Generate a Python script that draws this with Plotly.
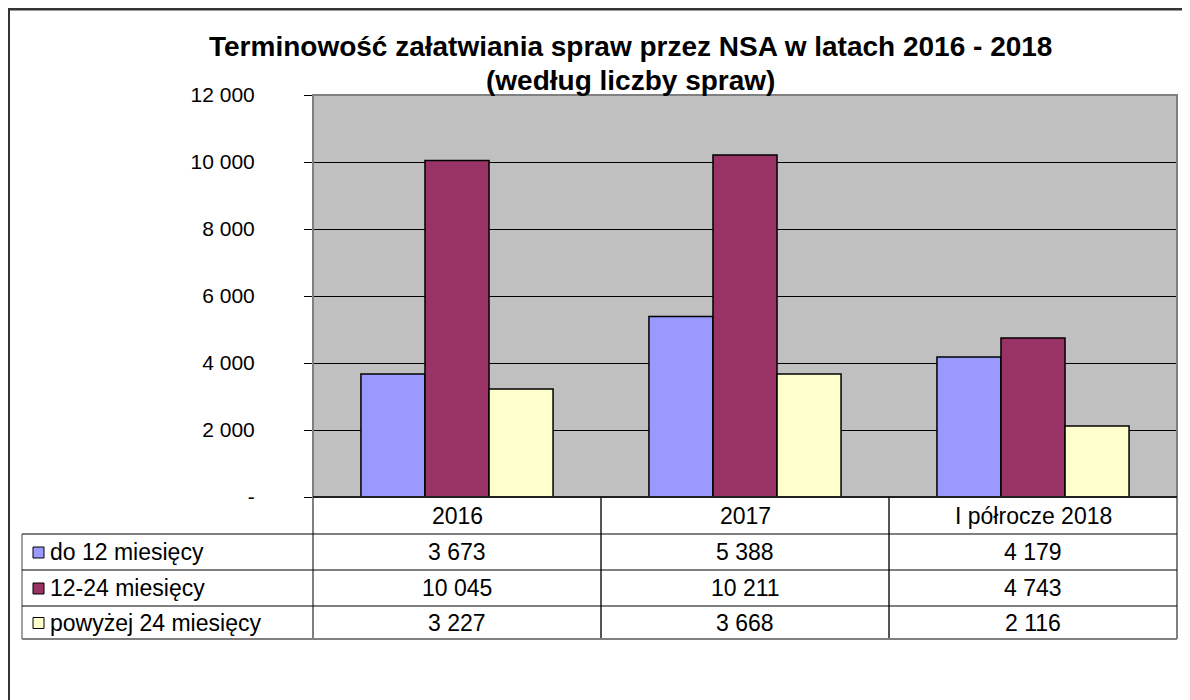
import plotly.graph_objects as go

# dane z wykresu
kategorie = ["2016", "2017", "I półrocze 2018"]
serie = ["do 12 miesięcy", "12-24 miesięcy", "powyżej 24 miesięcy"]
do_12 = [3673, 5388, 4179]
od_12_do_24 = [10045, 10211, 4743]
powyzej_24 = [3227, 3668, 2116]
wartosci = [do_12, od_12_do_24, powyzej_24]
kolory = ["#9999FF", "#993366", "#FFFFCC"]
y_ticki = [0, 2000, 4000, 6000, 8000, 10000, 12000]
y_etykiety = ["-", "2 000", "4 000", "6 000", "8 000", "10 000", "12 000"]
tytul = ["Terminowość załatwiania spraw przez NSA w latach 2016 - 2018",
         "(według liczby spraw)"]

FONT = "Liberation Sans, Arial, sans-serif"

# obszar wykresu w pikselach (współrzędne strony; body ma margines 8 px)
OFF = 8
L, R, T, B = 313, 1177, 95, 497
W, H = 1190 - OFF, 700 - OFF


def px(x):
    return (x - L) / (R - L)


def py(y):
    return (B - y) / (B - T)


def fmt(v):
    return f"{v:,}".replace(",", " ")


fig = go.Figure()
for nazwa, vals, kol in zip(serie, wartosci, kolory):
    fig.add_trace(go.Bar(
        x=kategorie, y=vals, name=nazwa,
        marker=dict(color=kol, line=dict(color="#000000", width=1.5)),
        hoverinfo="x+y+name"
    ))

shapes = []
# ramka zewnętrzna
shapes.append(dict(type="line", xref="paper", yref="paper",
                   x0=px(8), x1=px(1200), y0=py(9), y1=py(9),
                   line=dict(color="#333333", width=3)))
shapes.append(dict(type="line", xref="paper", yref="paper",
                   x0=px(9), x1=px(9), y0=py(8), y1=py(710),
                   line=dict(color="#333333", width=2)))
# ramka obszaru wykresu
shapes.append(dict(type="rect", xref="paper", yref="paper",
                   x0=0, x1=1, y0=0, y1=1, layer="above",
                   line=dict(color="#808080", width=2)))

# tabela danych
rows = [534, 570, 606, 639]
cols = [L, 601, 889, R]
for i, c in enumerate(cols):
    shapes.append(dict(type="line", xref="paper", yref="paper",
                       x0=px(c), x1=px(c), y0=py(B), y1=py(rows[-1]),
                       line=dict(color="#808080" if i in (0, 3) else "#555555", width=2)))
shapes.append(dict(type="line", xref="paper", yref="paper",
                   x0=px(22), x1=px(22), y0=py(rows[0]), y1=py(rows[-1]),
                   line=dict(color="#808080", width=1.5)))
for j, r in enumerate(rows):
    shapes.append(dict(type="line", xref="paper", yref="paper",
                       x0=px(22), x1=px(R), y0=py(r), y1=py(r),
                       line=dict(color="#808080" if j == 3 else "#000000",
                                 width=2 if j == 3 else 1)))
# oś x (górna krawędź tabeli)
shapes.append(dict(type="line", xref="paper", yref="paper",
                   x0=0, x1=1, y0=0, y1=0, layer="above",
                   line=dict(color="#000000", width=1.5)))

annotations = []
# tytuł - dwie linie
for linia, yt in zip(tytul, [46, 80]):
    annotations.append(dict(
        x=px(630), xref="paper", y=py(yt), yref="paper",
        xanchor="center", yanchor="middle", showarrow=False,
        text=f"<b>{linia}</b>",
        font=dict(family=FONT, size=28, color="#000000"),
    ))

TS = 23
naglowek_y = (B + rows[0]) / 2
for ci, k in enumerate(kategorie):
    annotations.append(dict(x=ci, xref="x", y=py(naglowek_y), yref="paper",
                            text=k, showarrow=False,
                            xanchor="center", yanchor="middle",
                            font=dict(family=FONT, size=TS, color="#000000")))
for i, (nazwa, vals, kol) in enumerate(zip(serie, wartosci, kolory)):
    yc = (rows[i] + rows[i + 1]) / 2
    shapes.append(dict(type="rect", xref="paper", yref="paper",
                       x0=px(33), x1=px(44), y0=py(yc - 5), y1=py(yc + 6),
                       fillcolor=kol, line=dict(color="#000000", width=1)))
    annotations.append(dict(x=px(48), xref="paper", y=py(yc), yref="paper",
                            text=nazwa, showarrow=False,
                            xanchor="left", yanchor="middle",
                            font=dict(family=FONT, size=TS, color="#000000")))
    for ci, v in enumerate(vals):
        annotations.append(dict(x=ci, xref="x", y=py(yc), yref="paper",
                                text=fmt(v), showarrow=False,
                                xanchor="center", yanchor="middle",
                                font=dict(family=FONT, size=TS, color="#000000")))

fig.update_layout(
    width=W, height=H,
    margin=dict(l=L - OFF, r=1190 - R, t=T - OFF, b=700 - B, pad=0),
    paper_bgcolor="#FFFFFF",
    plot_bgcolor="#C0C0C0",
    barmode="group",
    bargap=0.333,
    bargroupgap=0,
    showlegend=False,
    font=dict(family=FONT, size=20, color="#000000"),
    shapes=shapes,
    annotations=annotations,
)
fig.update_xaxes(type="category", showticklabels=False, showgrid=False, ticks="",
                 range=[-0.5, 2.5], fixedrange=True)
fig.update_yaxes(range=[0, 12000], tickvals=y_ticki, ticktext=y_etykiety,
                 showgrid=True, gridcolor="#000000", gridwidth=1,
                 zeroline=False, ticks="outside", ticklen=8, tickcolor="#000000",
                 ticklabelstandoff=45,
                 tickfont=dict(family=FONT, size=21, color="#000000"),
                 fixedrange=True)

fig.write_html("out.html")
